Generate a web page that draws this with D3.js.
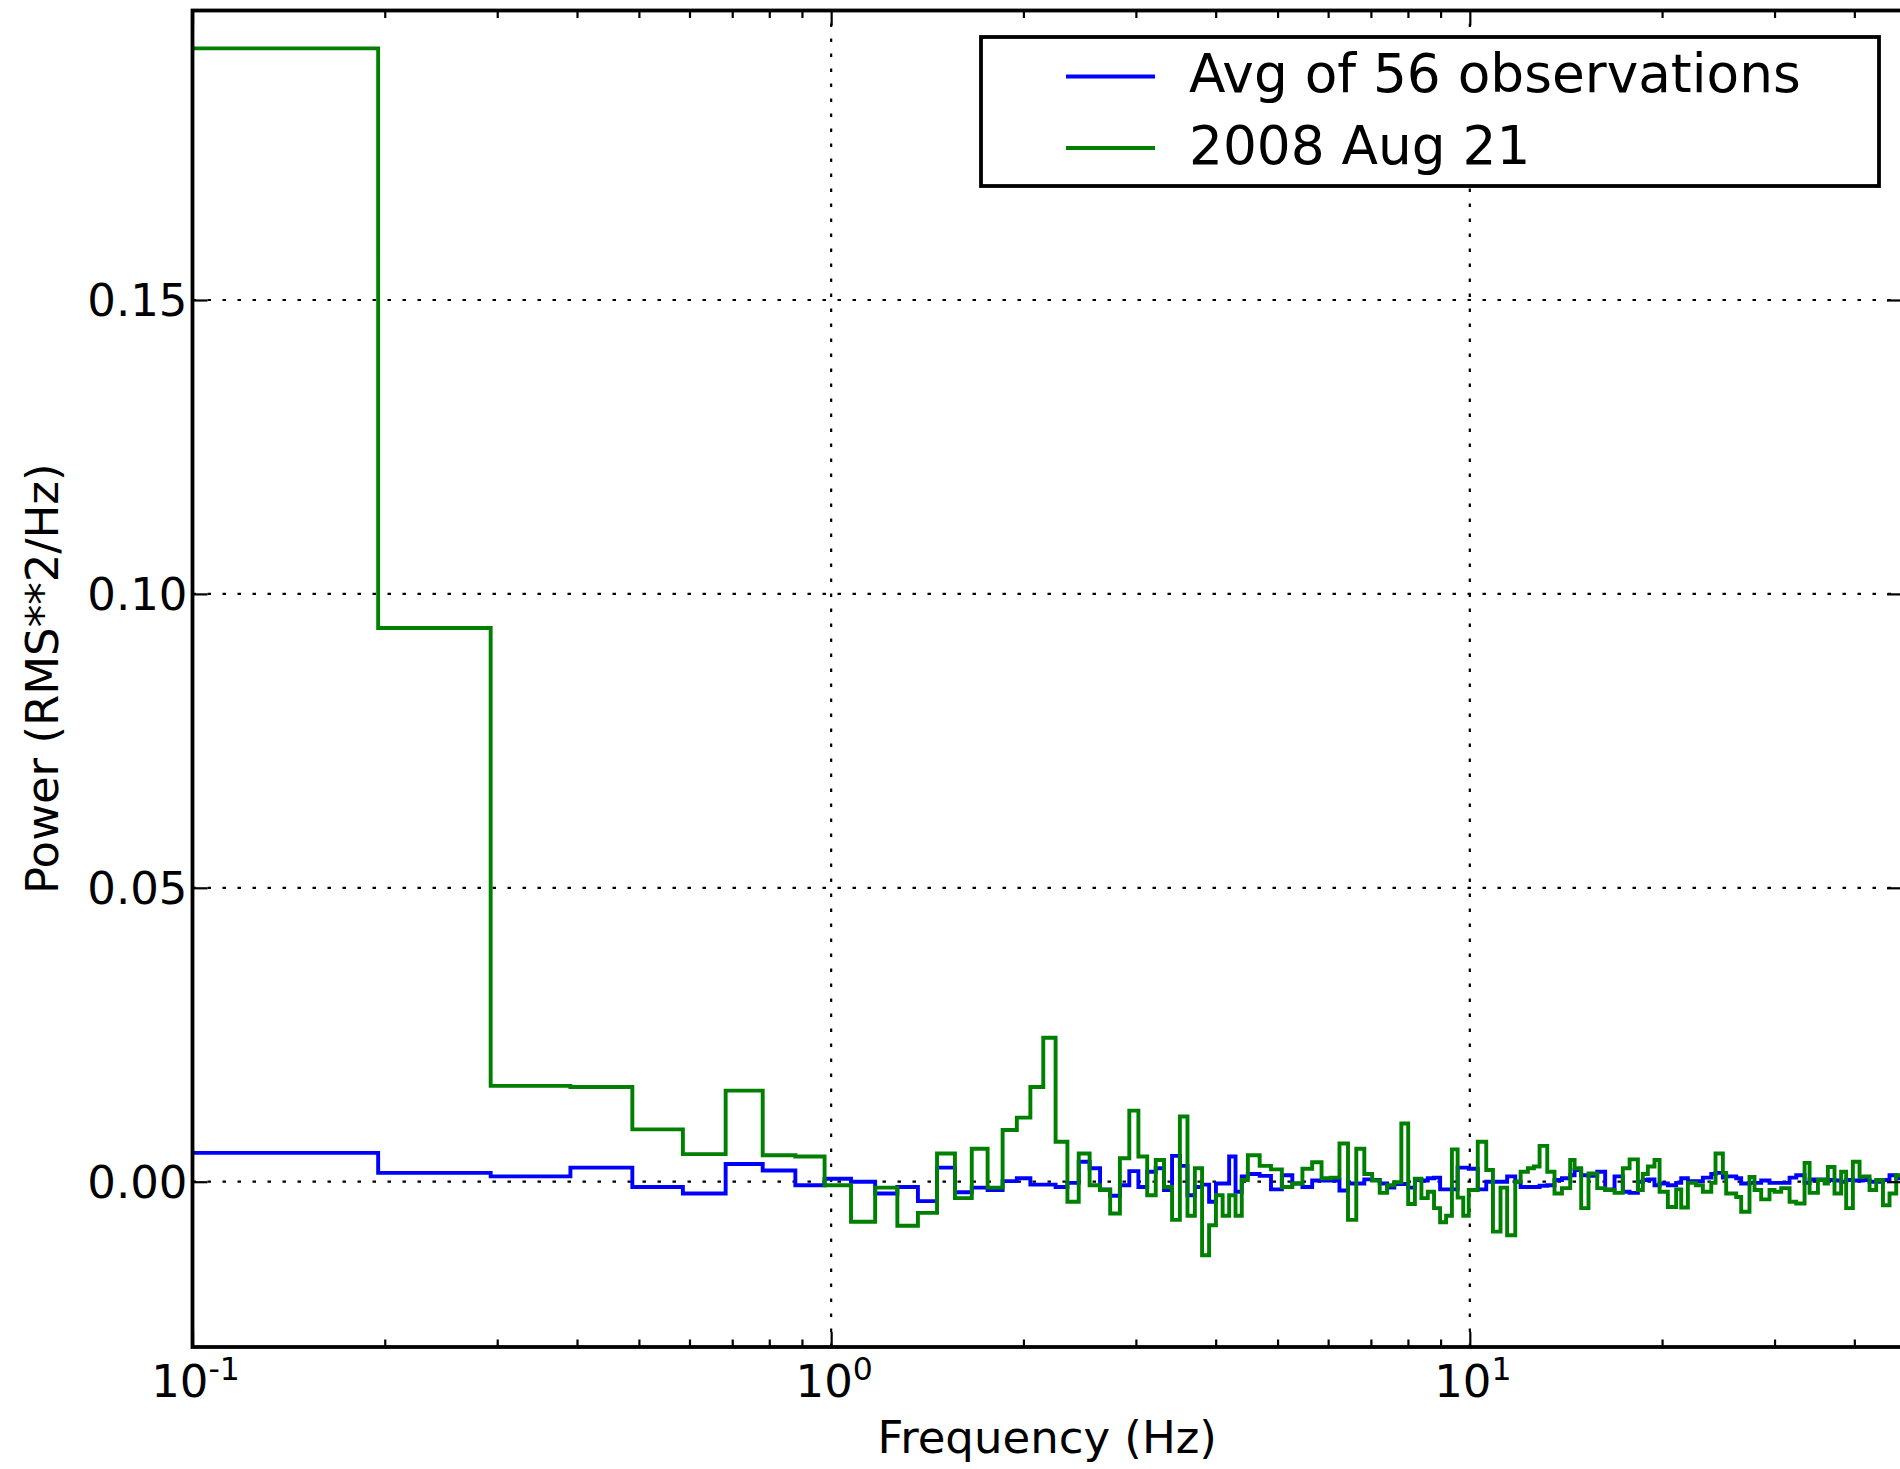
<!DOCTYPE html>
<html>
<head>
<meta charset="utf-8">
<script src="https://cdn.jsdelivr.net/npm/d3@7"></script>
<style>
  html, body { margin: 0; padding: 0; background: #ffffff; }
  svg { display: block; }
  text { font-family: "DejaVu Sans", sans-serif; fill: #000000; }
</style>
</head>
<body>
<svg id="chart" width="1900" height="1469"></svg>
<script>
// Frequency bin edges (Hz); each power value spans [edge i, edge i+1]
const freqEdges = [
  0.0977, 0.1953, 0.2930, 0.3906, 0.4883, 0.5859, 0.6836, 0.7813, 0.8789, 0.9766,
  1.0742, 1.1719, 1.2695, 1.3672, 1.4648, 1.5625, 1.6602, 1.7578, 1.8555, 1.9531,
  2.0508, 2.1484, 2.2461, 2.3438, 2.4414, 2.5391, 2.6367, 2.7344, 2.8320, 2.9297,
  3.0273, 3.1250, 3.2227, 3.3203, 3.4180, 3.5156, 3.6133, 3.7109, 3.8086, 3.9063,
  4.0039, 4.1016, 4.1992, 4.2969, 4.3945, 4.4922,
  4.6875, 4.8828, 5.0781, 5.2734, 5.4688, 5.6641, 5.8594, 6.0547, 6.2500, 6.4453,
  6.6406, 6.8359, 7.0313, 7.2266, 7.4219, 7.6172, 7.8125, 8.0078, 8.2031, 8.3984,
  8.5938, 8.7891, 8.9844, 9.1797, 9.3750, 9.5703, 9.7656, 9.9609,
  10.29, 10.61, 10.87, 11.17, 11.44, 11.78, 12.01, 12.33, 12.60, 12.86,
  13.22, 13.57, 13.94, 14.36, 14.59, 14.94, 15.34, 15.83, 16.29, 16.85,
  17.36, 17.79, 18.33, 18.66, 19.00, 19.46, 19.82, 20.42, 21.04, 21.43, 21.95,
  22.60, 23.17, 23.88, 24.25, 24.90, 25.20, 26.13, 26.60, 27.41, 27.91,
  28.59, 29.46, 30.00, 30.73, 31.67, 32.44, 33.43, 34.04, 35.08, 35.93,
  36.36, 37.24, 38.14, 38.84, 39.79, 40.76, 41.25, 42.26, 43.28, 44.35,
  45.41, 46.52, 47.50
];

// Average power spectrum over 56 observations (RMS**2/Hz)
const avgPower = [
  0.0049, 0.0015, 0.0009, 0.0024, -0.0009, -0.0020, 0.0030, 0.0019, -0.0006, 0.0005,
  0.0000, -0.0020, -0.0009, -0.0033, 0.0024, -0.0018, -0.0010, -0.0014, 0.0001, 0.0006,
  -0.0005, -0.0005, -0.0009, -0.0002, 0.0034, 0.0023, -0.0013, -0.0024, -0.0006, 0.0018,
  -0.0009, 0.0017, 0.0023, -0.0014, 0.0044, 0.0027, -0.0023, -0.0009, -0.0005, -0.0034,
  -0.0003, -0.0003, 0.0043, -0.0017, 0.0009,
  0.0013, 0.0010, -0.0013, 0.0011, -0.0003, -0.0009, 0.0002, 0.0002, 0.0002, -0.0015,
  -0.0003, -0.0003, 0.0004, 0.0003, -0.0003, -0.0010, -0.0004, -0.0004, -0.0010, 0.0003,
  0.0002, 0.0006, 0.0007, -0.0013, -0.0013, -0.0013, 0.0024, 0.0024,
  0.0022, -0.0013, 0.0000, 0.0000, 0.0000, 0.0009, 0.0000, -0.0009, -0.0009, -0.0009,
  -0.0007, -0.0006, 0.0003, 0.0006, 0.0011, 0.0020, 0.0011, 0.0010, 0.0017, -0.0013,
  0.0009, -0.0017, -0.0019, 0.0000, 0.0003, 0.0004, -0.0006, -0.0003, -0.0006, -0.0002, 0.0006,
  0.0001, 0.0001, 0.0007, 0.0013, 0.0015, 0.0007, 0.0009, 0.0006, -0.0003, -0.0002,
  -0.0002, 0.0002, -0.0002, -0.0002, -0.0002, 0.0007, 0.0011, -0.0002, 0.0004, 0.0004,
  0.0003, 0.0003, 0.0002, 0.0000, 0.0003, 0.0002, 0.0002, 0.0003, 0.0000, 0.0000,
  0.0003, 0.0011, 0.0006
];

// Power spectrum of the 2008 Aug 21 observation (RMS**2/Hz)
const aug21Power = [
  0.1928, 0.0942, 0.0163, 0.0161, 0.0089, 0.0047, 0.0155, 0.0045, 0.0043, -0.0006,
  -0.0068, -0.0010, -0.0075, -0.0053, 0.0048, -0.0028, 0.0056, -0.0010, 0.0088, 0.0109,
  0.0161, 0.0245, 0.0068, -0.0034, 0.0048, -0.0006, -0.0014, -0.0054, 0.0040, 0.0121,
  0.0043, -0.0023, 0.0037, -0.0009, -0.0065, 0.0111, -0.0058, 0.0023, -0.0125, -0.0074,
  -0.0023, -0.0058, -0.0023, -0.0058, 0.0003,
  0.0045, 0.0027, 0.0021, -0.0009, -0.0003, 0.0022, 0.0033, 0.0006, 0.0007, 0.0065,
  -0.0065, 0.0056, 0.0013, 0.0002, -0.0019, -0.0006, -0.0001, 0.0099, -0.0038, 0.0005,
  -0.0028, -0.0017, -0.0045, -0.0069, -0.0058, 0.0055, -0.0027, -0.0058,
  -0.0014, 0.0068, 0.0020, -0.0085, -0.0010, -0.0091, 0.0000, 0.0017, 0.0023, 0.0026,
  0.0061, 0.0017, -0.0020, -0.0011, 0.0037, 0.0023, -0.0045, 0.0014, -0.0011, -0.0014,
  -0.0019, 0.0023, 0.0038, -0.0014, 0.0013, 0.0026, 0.0037, -0.0017, -0.0043, -0.0013, -0.0044,
  -0.0002, -0.0006, -0.0017, -0.0002, 0.0048, 0.0015, -0.0020, -0.0026, -0.0051, 0.0008,
  -0.0014, -0.0030, -0.0014, -0.0017, -0.0011, -0.0034, -0.0037, 0.0032, -0.0019, 0.0003,
  -0.0003, 0.0025, -0.0020, 0.0017, -0.0045, 0.0034, 0.0008, 0.0009, -0.0014, 0.0003,
  -0.0040, -0.0020, 0.0011
];

const seriesNames = ["Avg of 56 observations", "2008 Aug 21"];
const seriesColors = ["#0000ff", "#008000"];

const yTickValues = [0.00, 0.05, 0.10, 0.15];
const yTickLabels = ["0.00", "0.05", "0.10", "0.15"];
const xMajorTicks = [0.1, 1, 10];
const xMajorExponents = ["-1", "0", "1"];
const xMinorTicks = [0.2, 0.3, 0.4, 0.5, 0.6, 0.7, 0.8, 0.9,
                     2, 3, 4, 5, 6, 7, 8, 9, 20, 30, 40];

const xDomain = [0.1, 47.5];
const yDomain = [-0.02812, 0.19925];

const xLabel = "Frequency (Hz)";
const yLabel = "Power (RMS**2/Hz)";

// ---- layout ----
const plot = { left: 192.5, top: 10.5, right: 1902, bottom: 1347 };
const svg = d3.select("#chart");

const x = d3.scaleLog().domain(xDomain).range([plot.left, plot.right]);
const y = d3.scaleLinear().domain(yDomain).range([plot.bottom, plot.top]);

svg.append("rect").attr("width", 1900).attr("height", 1469).attr("fill", "#ffffff");

svg.append("defs").append("clipPath").attr("id", "plot-clip")
  .append("rect")
  .attr("x", plot.left).attr("y", plot.top)
  .attr("width", plot.right - plot.left).attr("height", plot.bottom - plot.top);

// ---- dotted grid ----
const grid = svg.append("g").attr("class", "grid")
  .attr("stroke", "#000").attr("stroke-width", 2.2).attr("stroke-dasharray", "3.5 11.5").attr("fill", "none");
grid.selectAll("line.gy").data(yTickValues).join("line")
  .attr("class", "gy")
  .attr("x1", plot.left).attr("x2", plot.right)
  .attr("y1", d => y(d)).attr("y2", d => y(d));
grid.selectAll("line.gx").data(xMajorTicks.filter(d => d > xDomain[0])).join("line")
  .attr("class", "gx")
  .attr("x1", d => x(d)).attr("x2", d => x(d))
  .attr("y1", plot.bottom).attr("y2", plot.top);

// ---- step curves ----
function stepPoints(values) {
  const pts = values.map((v, i) => [freqEdges[i], v]);
  pts.push([freqEdges[values.length], values[values.length - 1]]);
  return pts;
}
const stepLine = d3.line()
  .x(d => x(d[0]))
  .y(d => y(d[1]))
  .curve(d3.curveStepAfter);

const data = svg.append("g").attr("clip-path", "url(#plot-clip)");
[avgPower, aug21Power].forEach((vals, i) => {
  data.append("path")
    .attr("d", stepLine(stepPoints(vals)))
    .attr("fill", "none")
    .attr("stroke", seriesColors[i])
    .attr("stroke-width", 3.9)
    .attr("stroke-linejoin", "miter");
});

// ---- ticks (inward, on all four sides) ----
function styleTicks(g) {
  g.select(".domain").remove();
  g.selectAll(".tick line").attr("stroke", "#000").attr("stroke-width", 2.2);
  g.selectAll(".tick text").remove();
}
const majorLen = 15, minorLen = 7.5;
svg.append("g").attr("transform", `translate(0,${plot.bottom})`)
  .call(d3.axisBottom(x).tickValues(xMajorTicks).tickSizeInner(-majorLen).tickSizeOuter(0)).call(styleTicks);
svg.append("g").attr("transform", `translate(0,${plot.bottom})`)
  .call(d3.axisBottom(x).tickValues(xMinorTicks).tickSizeInner(-minorLen).tickSizeOuter(0)).call(styleTicks);
svg.append("g").attr("transform", `translate(0,${plot.top})`)
  .call(d3.axisTop(x).tickValues(xMajorTicks).tickSizeInner(-majorLen).tickSizeOuter(0)).call(styleTicks);
svg.append("g").attr("transform", `translate(0,${plot.top})`)
  .call(d3.axisTop(x).tickValues(xMinorTicks).tickSizeInner(-minorLen).tickSizeOuter(0)).call(styleTicks);
svg.append("g").attr("transform", `translate(${plot.left},0)`)
  .call(d3.axisLeft(y).tickValues(yTickValues).tickSizeInner(-majorLen).tickSizeOuter(0)).call(styleTicks);
svg.append("g").attr("transform", `translate(${plot.right},0)`)
  .call(d3.axisRight(y).tickValues(yTickValues).tickSizeInner(-majorLen).tickSizeOuter(0)).call(styleTicks);

// ---- frame ----
svg.append("rect")
  .attr("x", plot.left).attr("y", plot.top)
  .attr("width", plot.right - plot.left).attr("height", plot.bottom - plot.top)
  .attr("fill", "none").attr("stroke", "#000").attr("stroke-width", 3.8);

// ---- tick labels ----
svg.append("g").selectAll("text").data(yTickValues).join("text")
  .attr("x", plot.left - 5)
  .attr("y", d => y(d) + 16.5)
  .attr("text-anchor", "end")
  .attr("font-size", 45)
  .text((d, i) => yTickLabels[i]);

const xl = svg.append("g").selectAll("text").data(xMajorTicks).join("text")
  .attr("x", d => x(d) + 3)
  .attr("y", 1396.7)
  .attr("text-anchor", "middle")
  .attr("font-size", 45);
xl.append("tspan").text("10");
xl.append("tspan").attr("font-size", 31.5).attr("dy", -17)
  .text((d, i) => xMajorExponents[i]);

// ---- axis titles ----
svg.append("text")
  .attr("x", (plot.left + plot.right) / 2)
  .attr("y", 1453)
  .attr("text-anchor", "middle")
  .attr("font-size", 45)
  .text(xLabel);

svg.append("text")
  .attr("transform", `translate(58,${(plot.top + plot.bottom) / 2}) rotate(-90)`)
  .attr("text-anchor", "middle")
  .attr("font-size", 45)
  .text(yLabel);

// ---- legend ----
const legend = svg.append("g");
legend.append("rect")
  .attr("x", 981).attr("y", 37).attr("width", 898).attr("height", 149)
  .attr("fill", "#ffffff").attr("stroke", "#000").attr("stroke-width", 3.8);
const legendRows = [76.5, 148];
seriesNames.forEach((name, i) => {
  legend.append("line")
    .attr("x1", 1066).attr("x2", 1155)
    .attr("y1", legendRows[i]).attr("y2", legendRows[i])
    .attr("stroke", seriesColors[i]).attr("stroke-width", 3.9);
  legend.append("text")
    .attr("x", 1189).attr("y", legendRows[i] + 15.5)
    .attr("font-size", 53.3)
    .text(name);
});
</script>
</body>
</html>
